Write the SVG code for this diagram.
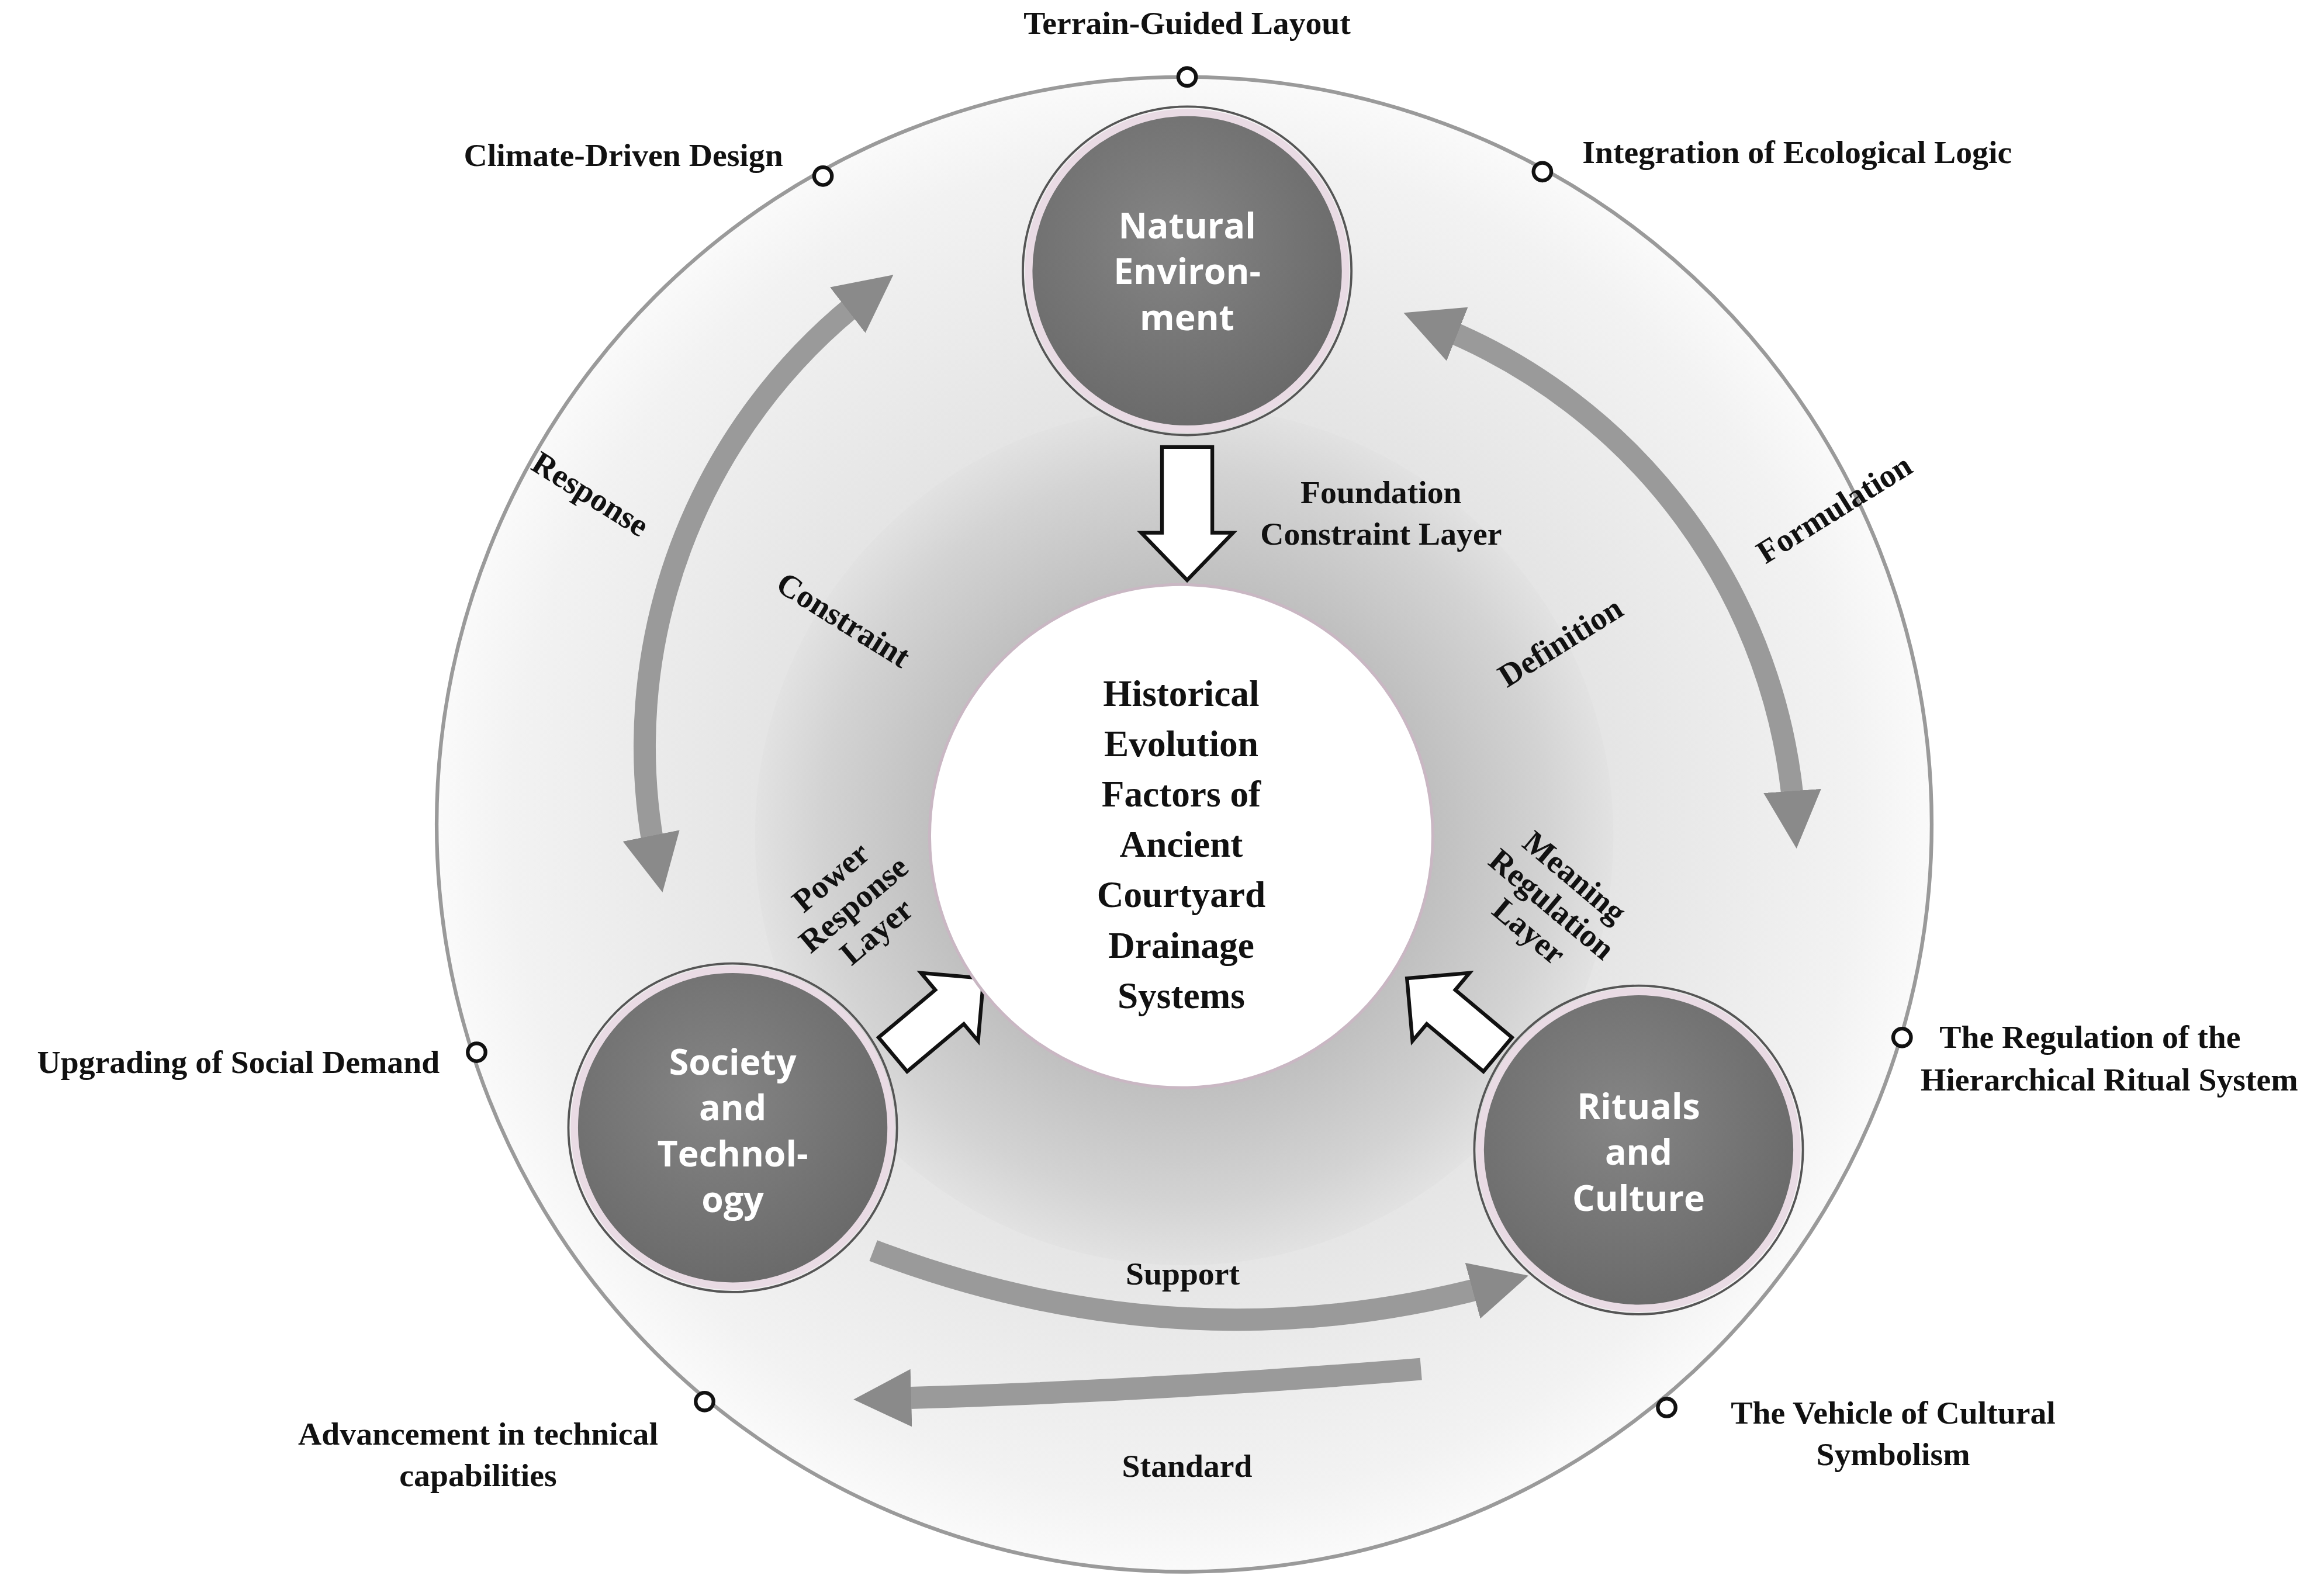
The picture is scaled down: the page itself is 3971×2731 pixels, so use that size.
<svg xmlns="http://www.w3.org/2000/svg" width="3971" height="2731" viewBox="0 0 3971 2731">
<defs>
<radialGradient id="outerG" cx="0.5" cy="0.5" r="0.5"><stop offset="0.55" stop-color="#e4e4e4"/><stop offset="0.9" stop-color="#f2f2f2"/><stop offset="1" stop-color="#fafafa"/></radialGradient>
<radialGradient id="ringG" cx="0.5" cy="0.5" r="0.5"><stop offset="0.55" stop-color="#bdbdbd"/><stop offset="0.85" stop-color="#d3d3d3"/><stop offset="1" stop-color="#e2e2e2"/></radialGradient>
<radialGradient id="nodeG" cx="0.45" cy="0.4" r="0.6"><stop offset="0" stop-color="#858585"/><stop offset="1" stop-color="#6a6a6a"/></radialGradient>
<marker id="ah" viewBox="0 0 10 10" refX="4" refY="5" markerWidth="2.6" markerHeight="2.6" orient="auto-start-reverse" markerUnits="strokeWidth"><path d="M0,0 L10,5 L0,10 z" fill="#8a8a8a"/></marker>
<style>
.lbl{font-family:"Liberation Serif",serif;font-weight:bold;font-size:22px;fill:#111}
.ctr{font-family:"Liberation Serif",serif;font-weight:bold;font-size:25px;fill:#111;text-anchor:middle}
.nd{font-family:"Open Sans","Liberation Sans",sans-serif;font-weight:bold;font-size:24px;fill:#fff;text-anchor:middle}
.dot{fill:#fff;stroke:#111;stroke-width:2.5}
.node{fill:url(#nodeG);stroke:#e9dbe4;stroke-width:5}
.nodeO{fill:none;stroke:#555;stroke-width:1.5}
.arc{fill:none;stroke:#9a9a9a;stroke-width:15;marker-end:url(#ah)}
.arc2{fill:none;stroke:#9a9a9a;stroke-width:15;marker-end:url(#ah);marker-start:url(#ah)}
.blk{fill:#fff;stroke:#111;stroke-width:2.5}
</style>
</defs>
<rect width="3971" height="2731" fill="#fff"/>
<g transform="scale(2.5325)">
<g id="background">
<circle cx="800" cy="557" r="505" fill="url(#outerG)" stroke="#9a9a9a" stroke-width="2.5"/>
<circle cx="800" cy="565" r="290" fill="url(#ringG)"/>
</g>
<g id="connectors">
<path class="arc2" d="M443,580 A385,385 0 0 1 585,200"/>
<path class="arc2" d="M970,220 A385,385 0 0 1 1212,550"/>
<path class="arc" d="M590,845 Q800,925 1010,868"/>
<path class="arc" d="M960,925 Q780,940 600,945"/>
<path class="blk" d="M785,302 L819,302 L819,360 L833,360 L802,392 L771,360 L785,360 Z"/>
<path class="blk" transform="rotate(-40 630 690)" d="M595,675 L645,675 L645,660 L675,690 L645,720 L645,705 L595,705 Z"/>
<path class="blk" transform="rotate(40 985 690)" d="M1020,675 L970,675 L970,660 L940,690 L970,720 L970,705 L1020,705 Z"/>
</g>
<g id="center"><circle cx="798" cy="565" r="170" fill="#fff" stroke="#c9b7c3" stroke-width="2"/>
<text class="ctr"><tspan x="798" y="477">Historical</tspan><tspan x="798" y="511">Evolution</tspan><tspan x="798" y="545">Factors of</tspan><tspan x="798" y="579">Ancient</tspan><tspan x="798" y="613">Courtyard</tspan><tspan x="798" y="647">Drainage</tspan><tspan x="798" y="681">Systems</tspan></text></g>
<g id="natural"><circle class="nodeO" cx="802" cy="183" r="111"/><circle class="node" cx="802" cy="183" r="107"/>
<text class="nd"><tspan x="802" y="161">Natural</tspan><tspan x="802" y="192">Environ-</tspan><tspan x="802" y="223">ment</tspan></text></g>
<g id="society"><circle class="nodeO" cx="495" cy="762" r="111"/><circle class="node" cx="495" cy="762" r="107"/>
<text class="nd"><tspan x="495" y="726">Society</tspan><tspan x="495" y="757">and</tspan><tspan x="495" y="788">Technol-</tspan><tspan x="495" y="819">ogy</tspan></text></g>
<g id="rituals"><circle class="nodeO" cx="1107" cy="777" r="111"/><circle class="node" cx="1107" cy="777" r="107"/>
<text class="nd"><tspan x="1107" y="756">Rituals</tspan><tspan x="1107" y="787">and</tspan><tspan x="1107" y="818">Culture</tspan></text></g>
<g id="dots">
<circle class="dot" cx="802" cy="52" r="6"/><circle class="dot" cx="556" cy="119" r="6"/><circle class="dot" cx="1042" cy="116" r="6"/>
<circle class="dot" cx="322" cy="711" r="6"/><circle class="dot" cx="476" cy="947" r="6"/><circle class="dot" cx="1126" cy="951" r="6"/><circle class="dot" cx="1285" cy="701" r="6"/>
</g>
<g id="labels">
<text class="lbl" x="802" y="23" text-anchor="middle">Terrain-Guided Layout</text>
<text class="lbl" x="529" y="112" text-anchor="end">Climate-Driven Design</text>
<text class="lbl" x="1069" y="110">Integration of Ecological Logic</text>
<text class="lbl" x="297" y="725" text-anchor="end">Upgrading of Social Demand</text>
<text class="lbl" x="323" y="976" text-anchor="middle">Advancement in technical</text>
<text class="lbl" x="323" y="1004" text-anchor="middle">capabilities</text>
<text class="lbl" x="1279" y="962" text-anchor="middle">The Vehicle of Cultural</text>
<text class="lbl" x="1279" y="990" text-anchor="middle">Symbolism</text>
<text class="lbl" x="1412" y="708" text-anchor="middle">The Regulation of the</text>
<text class="lbl" x="1425" y="737" text-anchor="middle">Hierarchical Ritual System</text>
<text class="lbl" x="933" y="340" text-anchor="middle">Foundation</text>
<text class="lbl" x="933" y="368" text-anchor="middle">Constraint Layer</text>
<text class="lbl" x="799" y="868" text-anchor="middle">Support</text>
<text class="lbl" x="802" y="998" text-anchor="middle">Standard</text>
<text class="lbl" transform="translate(395,340) rotate(32)" text-anchor="middle">Response</text>
<text class="lbl" transform="translate(566,425) rotate(32)" text-anchor="middle">Constraint</text>
<text class="lbl" transform="translate(1243,350) rotate(-32)" text-anchor="middle">Formulation</text>
<text class="lbl" transform="translate(1058,440) rotate(-32)" text-anchor="middle">Definition</text>
<g transform="translate(580,615) rotate(-40)"><text class="lbl" text-anchor="middle"><tspan x="0" y="-22">Power</tspan><tspan x="0" y="2">Response</tspan><tspan x="0" y="26">Layer</tspan></text></g>
<g transform="translate(1045,615) rotate(40)"><text class="lbl" text-anchor="middle"><tspan x="0" y="-22">Meaning</tspan><tspan x="0" y="2">Regulation</tspan><tspan x="0" y="26">Layer</tspan></text></g>
</g>
</g>
</svg>
